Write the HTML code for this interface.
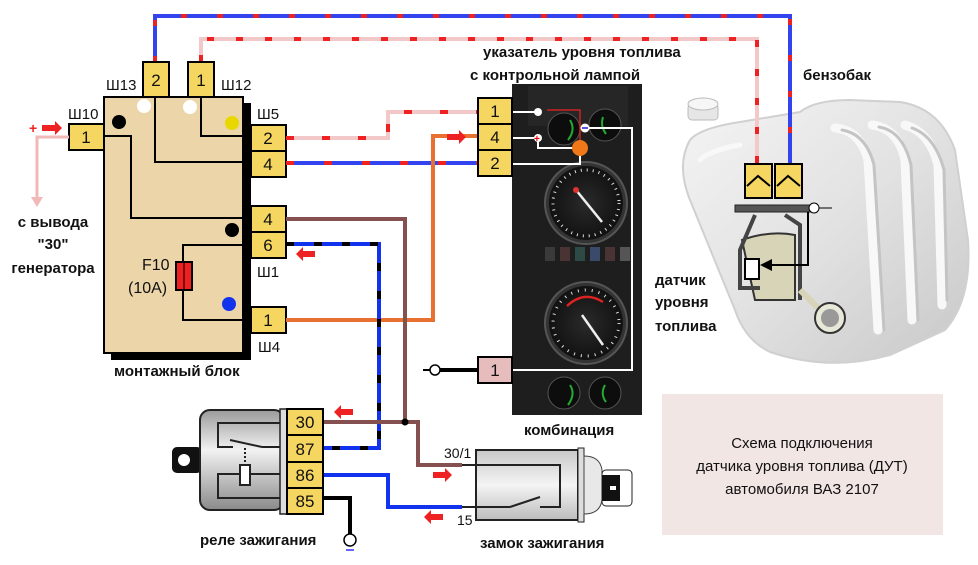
<!DOCTYPE html>
<html><head><meta charset="utf-8"><style>
html,body{margin:0;padding:0;background:#fff}
svg{display:block}
text{font-family:"Liberation Sans","DejaVu Sans",sans-serif;fill:#111}
.n{font-size:17px;text-anchor:middle}
.l{font-size:15px;font-weight:bold}
</style></head><body>
<svg width="978" height="565" viewBox="0 0 978 565" xmlns="http://www.w3.org/2000/svg">
<defs>
<linearGradient id="tank" x1="0" y1="0" x2="1" y2="1"><stop offset="0" stop-color="#f4f4f4"/><stop offset="0.5" stop-color="#e2e2e2"/><stop offset="1" stop-color="#c8c8c8"/></linearGradient>
<linearGradient id="rel" x1="0" y1="0" x2="0" y2="1"><stop offset="0" stop-color="#9a9a9a"/><stop offset="0.4" stop-color="#f2f2f2"/><stop offset="1" stop-color="#8a8a8a"/></linearGradient>
<linearGradient id="ign" x1="0" y1="0" x2="0" y2="1"><stop offset="0" stop-color="#c8c8c8"/><stop offset="0.5" stop-color="#f4f4f4"/><stop offset="1" stop-color="#bcbcbc"/></linearGradient>
<radialGradient id="gf" cx="0.5" cy="0.5" r="0.5"><stop offset="0" stop-color="#2a2a2a"/><stop offset="1" stop-color="#111"/></radialGradient>
</defs>

<!-- tank -->
<path d="M690 140 Q700 128 740 122 L800 112 Q815 100 850 100 L900 102 Q940 108 955 150 L968 240 Q972 300 945 330 L890 355 Q830 372 770 352 Q745 340 735 310 L690 200 Q676 165 690 140 Z" fill="url(#tank)" stroke="#d0d0d0" stroke-width="2"/>
<g fill="none" stroke-width="9" stroke-linecap="round">
<path d="M835 128 Q860 130 868 160 L878 330" stroke="#f8f8f8"/>
<path d="M842 130 Q866 134 874 165 L884 330" stroke="#c4c4c4" stroke-width="3"/>
<path d="M872 125 Q898 128 905 160 L912 320" stroke="#f8f8f8"/>
<path d="M879 127 Q903 131 911 165 L918 320" stroke="#c4c4c4" stroke-width="3"/>
<path d="M905 125 Q930 132 938 165 L942 305" stroke="#f8f8f8"/>
<path d="M912 128 Q935 136 944 170 L947 300" stroke="#c4c4c4" stroke-width="3"/>
<path d="M700 160 Q710 150 740 145" stroke="#f8f8f8" stroke-width="5"/>
</g>
<rect x="688" y="104" width="30" height="16" rx="4" fill="#e6e6e6" stroke="#bbb"/>
<ellipse cx="703" cy="104" rx="15" ry="6" fill="#f6f6f6" stroke="#bbb"/>

<!-- top wires -->
<polyline points="155,62 155,16 790,16 790,165" fill="none" stroke="#3344ee" stroke-width="4"/>
<polyline points="155,62 155,16 790,16 790,165" fill="none" stroke="#ee2222" stroke-width="4" stroke-dasharray="6,30"/>
<polyline points="201,62 201,39 757,39 757,165" fill="none" stroke="#f2c8c8" stroke-width="4"/>
<polyline points="201,62 201,39 757,39 757,165" fill="none" stroke="#ee2222" stroke-width="4" stroke-dasharray="7,22"/>

<!-- mounting block -->
<rect x="111" y="103" width="140" height="257" fill="#000"/>
<rect x="104" y="97" width="139" height="256" fill="#ecd5a8" stroke="#000" stroke-width="2"/>
<g fill="none" stroke="#000" stroke-width="2">
<polyline points="201,97 201,136 243,136"/>
<polyline points="155,97 155,162 243,162"/>
<polyline points="104,136 131,136 131,218 243,218"/>
<polyline points="243,245 183,245 183,320 243,320"/>
</g>
<rect x="176" y="262" width="16" height="28" fill="#ee2020" stroke="#000" stroke-width="2"/>
<line x1="184" y1="262" x2="184" y2="290" stroke="#000" stroke-width="1"/>
<circle cx="119" cy="122" r="7" fill="#000"/>
<circle cx="144" cy="106" r="7" fill="#fff"/>
<circle cx="190" cy="107" r="7" fill="#fff"/>
<circle cx="232" cy="123" r="7" fill="#e8d800"/>
<circle cx="232" cy="230" r="7" fill="#000"/>
<circle cx="229" cy="304" r="7" fill="#1133ee"/>
<text x="142" y="270" style="font-size:16px">F10</text>
<text x="128" y="293" style="font-size:16px">(10A)</text>

<!-- block connectors -->
<g fill="#f5d660" stroke="#000" stroke-width="2">
<rect x="143" y="62" width="26" height="35"/><rect x="188" y="62" width="26" height="35"/>
<rect x="69" y="124" width="35" height="26"/>
<rect x="251" y="125" width="35" height="26"/><rect x="251" y="151" width="35" height="26"/>
<rect x="251" y="206" width="35" height="26"/><rect x="251" y="232" width="35" height="26"/>
<rect x="251" y="307" width="35" height="26"/>
</g>
<text class="n" x="156" y="86">2</text><text class="n" x="201" y="86">1</text>
<text class="n" x="86" y="143">1</text>
<text class="n" x="268" y="144">2</text><text class="n" x="268" y="170">4</text>
<text class="n" x="268" y="225">4</text><text class="n" x="268" y="251">6</text>
<text class="n" x="268" y="326">1</text>
<g style="font-size:15px">
<text x="106" y="90">Ш13</text><text x="221" y="90">Ш12</text><text x="68" y="119">Ш10</text>
<text x="257" y="119">Ш5</text><text x="257" y="277">Ш1</text><text x="258" y="352">Ш4</text>
</g>
<text class="l" x="114" y="376">монтажный блок</text>

<!-- generator -->
<polyline points="69,137 37,137 37,200" fill="none" stroke="#f2b8b8" stroke-width="3"/>
<polygon points="31,197 43,197 37,207" fill="#f2b8b8"/>
<text x="29" y="133" style="font-size:14px;fill:#e22;font-weight:bold">+</text>
<polygon points="42,125 55,125 55,121 62,128 55,135 55,131 42,131" fill="#ee2222"/>
<text class="l" x="53" y="227" text-anchor="middle">с вывода</text>
<text class="l" x="53" y="249" text-anchor="middle">"30"</text>
<text class="l" x="53" y="273" text-anchor="middle">генератора</text>

<!-- wires from block -->
<polyline points="286,138 388,138 388,112 478,112" fill="none" stroke="#f2c8c8" stroke-width="4"/>
<polyline points="286,138 388,138 388,112 478,112" fill="none" stroke="#ee2222" stroke-width="4" stroke-dasharray="8,28"/>
<line x1="286" y1="163" x2="478" y2="163" stroke="#3344ee" stroke-width="4"/>
<line x1="286" y1="163" x2="478" y2="163" stroke="#ee2222" stroke-width="4" stroke-dasharray="8,30"/>
<polyline points="286,320 433,320 433,136 478,136" fill="none" stroke="#e87030" stroke-width="4"/>
<polygon points="447,134 459,134 459,130 466,137 459,144 459,140 447,140" fill="#ee2222"/>
<polyline points="286,219 405,219 405,422" fill="none" stroke="#845050" stroke-width="4"/>
<polyline points="286,244 379,244 379,448 323,448" fill="none" stroke="#1133ee" stroke-width="4"/>
<polyline points="286,244 379,244 379,448 323,448" fill="none" stroke="#000" stroke-width="4" stroke-dasharray="8,20"/>
<polygon points="315,251 303,251 303,247 296,254 303,261 303,257 315,257" fill="#ee2222"/>
<polyline points="323,422 405,422 418,422 418,465 462,465" fill="none" stroke="#845050" stroke-width="4"/>
<circle cx="405" cy="422" r="3.5" fill="#000"/>
<polyline points="323,475 388,475 388,507 462,507" fill="none" stroke="#1133ee" stroke-width="4"/>
<polyline points="323,498 350,498 350,534" fill="none" stroke="#000" stroke-width="4"/>
<circle cx="350" cy="540" r="6" fill="#fff" stroke="#000" stroke-width="1.5"/>
<line x1="346" y1="550" x2="354" y2="550" stroke="#33f" stroke-width="1.5"/>
<polygon points="353,409 341,409 341,405 334,412 341,419 341,415 353,415" fill="#ee2222"/>
<polygon points="433,472 445,472 445,468 452,475 445,482 445,478 433,478" fill="#ee2222"/>
<polygon points="443,514 431,514 431,510 424,517 431,524 431,520 443,520" fill="#ee2222"/>

<!-- relay -->
<rect x="172" y="447" width="30" height="26" rx="5" fill="#111"/>
<circle cx="184" cy="460" r="6" fill="#fff"/>
<rect x="200" y="410" width="84" height="100" rx="10" fill="url(#rel)" stroke="#222" stroke-width="2"/>
<g fill="none" stroke="#222" stroke-width="2">
<polyline points="280,423 218,423 218,447 233,447"/><line x1="230" y1="440" x2="262" y2="447"/>
<line x1="262" y1="447" x2="280" y2="447"/>
<polyline points="280,498 218,498 218,474 280,474"/>
<line x1="245" y1="448" x2="245" y2="465" stroke-dasharray="2,2"/>
</g>
<rect x="240" y="465" width="10" height="20" fill="#fff" stroke="#222" stroke-width="2"/>
<rect x="280" y="409" width="7" height="105" fill="#ddd" stroke="#222" stroke-width="1.5"/>
<g fill="#f5d660" stroke="#000" stroke-width="2">
<rect x="287" y="409" width="36" height="26"/><rect x="287" y="435" width="36" height="27"/>
<rect x="287" y="462" width="36" height="26"/><rect x="287" y="488" width="36" height="26"/>
</g>
<text class="n" x="305" y="428">30</text><text class="n" x="305" y="455">87</text>
<text class="n" x="305" y="481">86</text><text class="n" x="305" y="507">85</text>
<text class="l" x="200" y="545">реле зажигания</text>

<!-- ignition -->
<rect x="476" y="450" width="102" height="70" fill="url(#ign)" stroke="#222" stroke-width="2"/>
<rect x="578" y="448" width="6" height="74" fill="#ddd" stroke="#222"/>
<path d="M584 456 Q600 456 602 470 L602 500 Q600 514 584 514 Z" fill="#e8e8e8" stroke="#444"/>
<rect x="602" y="470" width="30" height="36" rx="4" fill="#fff" stroke="#222"/>
<rect x="602" y="475" width="18" height="26" fill="#111"/>
<rect x="610" y="486" width="6" height="4" fill="#fff"/>
<g fill="none" stroke="#222" stroke-width="2">
<polyline points="462,465 476,465 560,465 560,507 540,507"/>
<line x1="510" y1="507" x2="540" y2="497"/><polyline points="462,507 510,507"/>
</g>
<text x="444" y="458" style="font-size:14px">30/1</text>
<text x="457" y="525" style="font-size:14px">15</text>
<text class="l" x="480" y="548">замок зажигания</text>

<!-- cluster -->
<rect x="512" y="84" width="130" height="331" fill="#1e1e1e"/>
<rect x="528" y="86" width="100" height="40" fill="#262626"/>
<circle cx="586" cy="203" r="41" fill="#333" stroke="#555" stroke-width="2"/>
<circle cx="586" cy="203" r="37" fill="url(#gf)"/>
<circle cx="586" cy="203" r="33" fill="none" stroke="#ddd" stroke-width="3" stroke-dasharray="1,5"/>
<line x1="576" y1="190" x2="602" y2="222" stroke="#eee" stroke-width="2.5"/>
<circle cx="576" cy="190" r="3" fill="#d33"/>
<circle cx="586" cy="323" r="41" fill="#333" stroke="#555" stroke-width="2"/>
<circle cx="586" cy="323" r="37" fill="url(#gf)"/>
<circle cx="586" cy="323" r="33" fill="none" stroke="#ddd" stroke-width="3" stroke-dasharray="1,6"/>
<path d="M567 306 Q584 290 603 302" fill="none" stroke="#d22" stroke-width="2.5"/>
<line x1="582" y1="315" x2="603" y2="345" stroke="#eee" stroke-width="2.5"/>
<g fill="#3a3a3a"><rect x="545" y="247" width="10" height="14"/><rect x="560" y="247" width="10" height="14" fill="#4a3333"/><rect x="575" y="247" width="10" height="14" fill="#2e4a44"/><rect x="590" y="247" width="10" height="14" fill="#3a4a6a"/><rect x="605" y="247" width="10" height="14" fill="#4a3333"/><rect x="620" y="247" width="10" height="14" fill="#555"/></g>
<circle cx="564" cy="129" r="16" fill="#0d0d0d" stroke="#555"/><path d="M570 120 Q576 130 568 140" stroke="#2a3" stroke-width="2" fill="none"/>
<circle cx="605" cy="125" r="16" fill="#0d0d0d" stroke="#555"/><path d="M603 117 Q600 126 606 134" stroke="#2a3" stroke-width="2" fill="none"/>
<circle cx="564" cy="393" r="16" fill="#0d0d0d" stroke="#555"/><path d="M570 385 Q576 394 568 405" stroke="#2a3" stroke-width="2" fill="none"/>
<circle cx="605" cy="393" r="16" fill="#0d0d0d" stroke="#555"/><path d="M605 385 Q600 394 606 402" stroke="#2a3" stroke-width="2" fill="none"/>
<polyline points="547,110 580,110 580,148 547,148" fill="none" stroke="#c22" stroke-width="1.5"/>
<g fill="none" stroke="#fff" stroke-width="2">
<line x1="512" y1="112" x2="538" y2="112"/>
<polyline points="512,138 538,138 538,148 580,148"/>
<polyline points="512,164 580,164 580,148"/>
<polyline points="585,128 632,128 632,370 512,370"/>
</g>
<circle cx="538" cy="112" r="4" fill="#fff"/>
<circle cx="538" cy="138" r="4" fill="#fff"/><text x="534" y="142" style="font-size:10px;fill:#e00;font-weight:bold">+</text>
<circle cx="580" cy="148" r="8" fill="#f07818"/>
<circle cx="585" cy="128" r="4.5" fill="#fff"/><line x1="582" y1="128" x2="588" y2="128" stroke="#22c" stroke-width="1.5"/>
<g fill="#f5d660" stroke="#000" stroke-width="2">
<rect x="478" y="98" width="34" height="26"/><rect x="478" y="124" width="34" height="26"/><rect x="478" y="150" width="34" height="26"/>
</g>
<rect x="478" y="357" width="34" height="26" fill="#e6bcbc" stroke="#000" stroke-width="2"/>
<text class="n" x="495" y="117">1</text><text class="n" x="495" y="143">4</text><text class="n" x="495" y="169">2</text>
<text class="n" x="495" y="376">1</text>
<line x1="440" y1="370" x2="478" y2="370" stroke="#000" stroke-width="4"/>
<circle cx="435" cy="370" r="5" fill="#fff" stroke="#000" stroke-width="1.5"/>
<line x1="423" y1="370" x2="430" y2="370" stroke="#000" stroke-width="2"/>
<text class="l" x="483" y="57">указатель уровня топлива</text>
<text class="l" x="470" y="80">с контрольной лампой</text>
<text class="l" x="524" y="435">комбинация</text>

<!-- sensor -->
<g fill="#f5d660" stroke="#000" stroke-width="2">
<rect x="745" y="164" width="27" height="34"/><rect x="775" y="164" width="27" height="34"/>
</g>
<polyline points="747,186 758,176 770,186" fill="none" stroke="#000" stroke-width="2"/>
<polyline points="777,186 788,176 800,186" fill="none" stroke="#000" stroke-width="2"/>
<rect x="735" y="205" width="78" height="7" fill="#555" stroke="#222"/>
<circle cx="814" cy="208" r="5" fill="#fff" stroke="#000"/>
<line x1="819" y1="208" x2="832" y2="208" stroke="#000"/>
<path d="M742 240 Q770 230 795 235 L795 300 L755 300 Z" fill="#d8d4b8" stroke="#333" stroke-width="2"/>
<polyline points="755,215 740,250 740,288 760,288" fill="none" stroke="#444" stroke-width="4"/>
<polyline points="785,215 800,225 800,300" fill="none" stroke="#444" stroke-width="4"/>
<rect x="745" y="259" width="14" height="20" fill="#fff" stroke="#000" stroke-width="2"/>
<polyline points="808,212 808,265 762,265" fill="none" stroke="#000" stroke-width="2"/>
<polygon points="760,265 772,259 772,271" fill="#000"/>
<line x1="800" y1="290" x2="825" y2="315" stroke="#d8d4b8" stroke-width="6"/>
<circle cx="830" cy="318" r="15" fill="#e8e8d8" stroke="#333" stroke-width="2"/>
<circle cx="830" cy="318" r="9" fill="#999"/>
<text class="l" x="803" y="80">бензобак</text>
<text class="l" x="655" y="285">датчик</text>
<text class="l" x="655" y="307">уровня</text>
<text class="l" x="655" y="331">топлива</text>

<!-- caption -->
<rect x="662" y="394" width="281" height="141" fill="#f2e6e4"/>
<g style="font-size:15px" text-anchor="middle">
<text x="802" y="448">Схема подключения</text>
<text x="802" y="471">датчика уровня топлива (ДУТ)</text>
<text x="802" y="494">автомобиля ВАЗ 2107</text>
</g>
</svg>
</body></html>
